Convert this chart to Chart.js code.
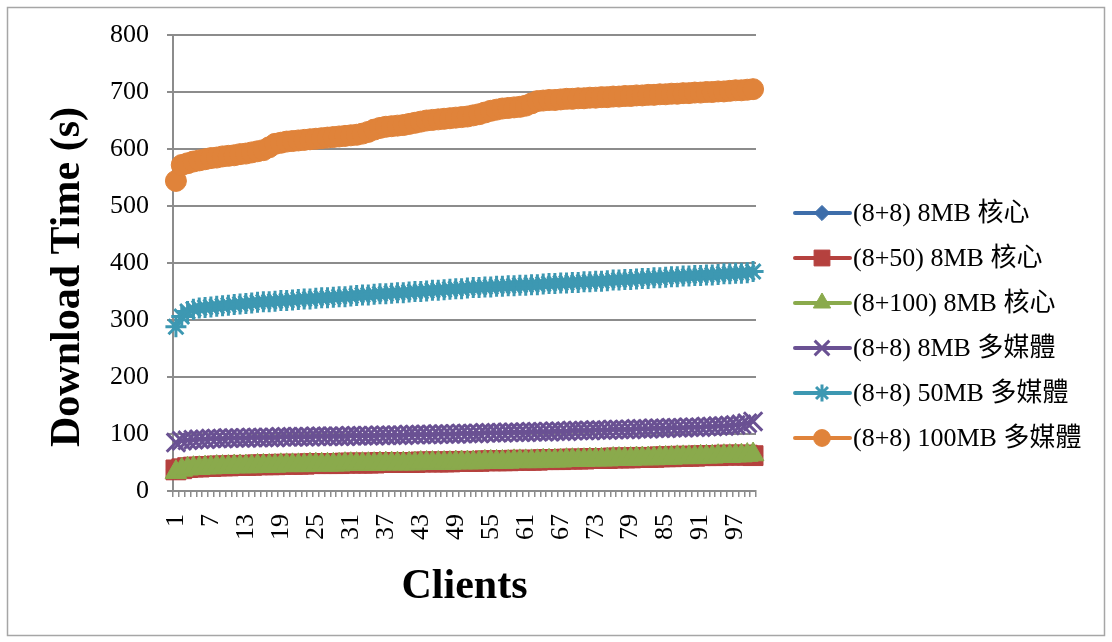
<!DOCTYPE html>
<html>
<head>
<meta charset="utf-8">
<script src="https://cdn.jsdelivr.net/npm/chart.js@4.4.1/dist/chart.umd.min.js"></script>
<style>
  html, body { margin: 0; padding: 0; background: #ffffff; }
  canvas { display: block; }
</style>
</head>
<body>
<canvas id="chart" width="1112" height="642"></canvas>
<script>
// Client index 1..100 on the category axis
const clients = Array.from({ length: 100 }, (_, i) => String(i + 1));

const seriesNames = [
  '(8+8) 8MB 核心',
  '(8+50) 8MB 核心',
  '(8+100) 8MB 核心',
  '(8+8) 8MB 多媒體',
  '(8+8) 50MB 多媒體',
  '(8+8) 100MB 多媒體'
];

const yTitle = 'Download Time (s)';
const xTitle = 'Clients';

// Download time (seconds) per client
const core8_8 = [
  37, 39, 41, 42, 42, 43, 43, 44, 44, 44,
  45, 45, 45, 45, 46, 46, 46, 46, 47, 47,
  47, 47, 47, 48, 48, 48, 48, 48, 48, 49,
  49, 49, 49, 49, 49, 50, 50, 50, 50, 50,
  50, 50, 51, 51, 51, 51, 51, 51, 52, 52,
  52, 52, 52, 53, 53, 53, 53, 53, 54, 54,
  54, 54, 54, 55, 55, 55, 55, 56, 56, 56,
  56, 57, 57, 57, 57, 58, 58, 58, 58, 59,
  59, 59, 59, 60, 60, 60, 61, 61, 61, 61,
  62, 62, 62, 62, 63, 63, 63, 63, 63, 62
];
const core8_50 = [
  37, 39, 41, 42, 42, 43, 43, 44, 44, 44,
  45, 45, 45, 45, 46, 46, 46, 46, 47, 47,
  47, 47, 47, 48, 48, 48, 48, 48, 48, 49,
  49, 49, 49, 49, 49, 50, 50, 50, 50, 50,
  50, 50, 51, 51, 51, 51, 51, 51, 52, 52,
  52, 52, 52, 53, 53, 53, 53, 53, 54, 54,
  54, 54, 54, 55, 55, 55, 55, 56, 56, 56,
  56, 57, 57, 57, 57, 58, 58, 58, 58, 59,
  59, 59, 59, 60, 60, 60, 61, 61, 61, 61,
  62, 62, 62, 62, 63, 63, 63, 63, 63, 62
];
const core8_100 = [
  33, 37, 39, 40, 40, 41, 41, 42, 42, 42,
  43, 43, 43, 43, 44, 44, 44, 44, 45, 45,
  45, 45, 45, 46, 46, 46, 46, 46, 46, 47,
  47, 47, 47, 47, 47, 48, 48, 48, 48, 48,
  48, 48, 49, 49, 49, 49, 49, 49, 50, 50,
  50, 50, 50, 51, 51, 51, 51, 51, 52, 52,
  52, 52, 52, 53, 53, 53, 53, 54, 54, 54,
  54, 55, 55, 55, 55, 56, 56, 56, 56, 57,
  57, 57, 57, 58, 58, 58, 59, 59, 59, 59,
  60, 60, 60, 61, 61, 61, 62, 62, 63, 64
];
const media8 = [
  85, 88, 89, 90, 91, 91, 92, 92, 92, 93,
  93, 93, 93, 94, 94, 94, 94, 94, 95, 95,
  95, 95, 95, 95, 96, 96, 96, 96, 96, 96,
  97, 97, 97, 97, 97, 98, 98, 98, 98, 98,
  99, 99, 99, 99, 99, 100, 100, 100, 100, 101,
  101, 101, 101, 102, 102, 102, 102, 103, 103, 103,
  103, 104, 104, 104, 104, 105, 105, 105, 106, 106,
  106, 106, 107, 107, 107, 108, 108, 108, 108, 109,
  109, 109, 110, 110, 110, 111, 111, 111, 112, 112,
  112, 113, 113, 114, 114, 115, 116, 117, 119, 122
];
const media50 = [
  288, 306, 315, 319, 321, 322, 323, 324, 325, 326,
  327, 328, 329, 330, 331, 332, 332, 333, 334, 334,
  335, 336, 337, 337, 338, 339, 339, 340, 341, 341,
  342, 343, 344, 344, 345, 346, 346, 347, 348, 348,
  349, 350, 350, 351, 352, 352, 353, 354, 355, 355,
  356, 357, 357, 358, 358, 359, 359, 360, 360, 361,
  361, 362, 362, 363, 364, 364, 365, 365, 366, 366,
  367, 367, 368, 368, 369, 370, 370, 371, 371, 372,
  373, 373, 374, 374, 375, 376, 376, 377, 377, 378,
  378, 379, 379, 380, 381, 381, 382, 382, 383, 385
];
const media100 = [
  544, 572, 575, 578, 580, 582, 584, 585, 587, 588,
  589, 591, 592, 594, 596, 598, 603, 609, 611, 613,
  614, 615, 616, 617, 618, 619, 620, 621, 622, 623,
  624, 625, 627, 630, 634, 637, 639, 640, 641, 642,
  644, 646, 648, 650, 651, 652, 653, 654, 655, 656,
  657, 659, 661, 664, 667, 669, 671, 672, 673, 674,
  676, 680, 684, 685, 686, 686, 687, 688, 688, 689,
  689, 690, 690, 691, 691, 692, 692, 693, 693, 694,
  694, 695, 695, 696, 696, 697, 697, 698, 698, 699,
  699, 700, 700, 701, 701, 702, 703, 703, 704, 705
];

const yTicks = [0, 100, 200, 300, 400, 500, 600, 700, 800];

const SERIF = "'Liberation Serif', 'Noto Sans CJK TC', serif";
const GRID = '#8c8c8c';

const styles = [
  { color: '#3e6eaa', point: 'rectRot',  radius: 9.5,  bw: 1 },
  { color: '#b5413e', point: 'rect',     radius: 14,   bw: 1 },
  { color: '#8aaa4c', point: 'triangle', radius: 12.5, bw: 1 },
  { color: '#6a5193', point: 'crossRot', radius: 13,   bw: 3 },
  { color: '#3d98b2', point: 'star',     radius: 10.5, bw: 3 },
  { color: '#e0833a', point: 'circle',   radius: 10.5, bw: 1 }
];
const values = [core8_8, core8_50, core8_100, media8, media50, media100];

const datasets = values.map((v, i) => ({
  label: seriesNames[i],
  data: v,
  borderColor: styles[i].color,
  backgroundColor: styles[i].color,
  borderWidth: 3.5,
  pointStyle: styles[i].point,
  pointRadius: styles[i].radius,
  pointBorderWidth: styles[i].bw,
  pointBackgroundColor: styles[i].color,
  pointBorderColor: styles[i].color,
  tension: 0,
  order: values.length - 1 - i
}));

// Outer frame of the chart and the vertical axis title
const framePlugin = {
  id: 'frame',
  beforeDraw(chart) {
    const ctx = chart.ctx;
    ctx.save();
    ctx.fillStyle = '#ffffff';
    ctx.fillRect(0, 0, chart.width, chart.height);
    ctx.strokeStyle = '#a6a6a6';
    ctx.lineWidth = 1.5;
    ctx.strokeRect(7.5, 7.5, 1097, 628);
    ctx.restore();
  },
  afterDraw(chart) {
    const ctx = chart.ctx;
    ctx.save();
    ctx.translate(68, 277);
    ctx.rotate(-Math.PI / 2);
    ctx.fillStyle = '#000000';
    ctx.font = 'bold 42px ' + SERIF;
    ctx.textAlign = 'center';
    ctx.textBaseline = 'middle';
    ctx.fillText(yTitle, 0, 0);
    ctx.restore();
  }
};

// Legend with a line sample and marker for each series
const lineLegend = {
  id: 'lineLegend',
  afterDraw(chart) {
    const ctx = chart.ctx;
    const x0 = 795, x1 = 850, xm = 822, xt = 853;
    const yStart = 213, step = 45;
    ctx.save();
    chart.data.datasets.forEach((ds, i) => {
      const y = yStart + i * step;
      ctx.strokeStyle = ds.borderColor;
      ctx.fillStyle = ds.borderColor;
      ctx.lineWidth = 4;
      ctx.lineCap = 'round';
      ctx.beginPath();
      ctx.moveTo(x0, y);
      ctx.lineTo(x1, y);
      ctx.stroke();
      ctx.lineCap = 'butt';
      ctx.lineWidth = ds.pointBorderWidth;
      Chart.helpers.drawPoint(ctx, {
        pointStyle: ds.pointStyle,
        radius: ds.pointRadius * 0.8,
        rotation: 0,
        borderWidth: ds.pointBorderWidth
      }, xm, y);
      ctx.fillStyle = '#000000';
      ctx.font = '26px ' + SERIF;
      ctx.textAlign = 'left';
      ctx.textBaseline = 'middle';
      ctx.fillText(ds.label, xt, y + 1);
    });
    ctx.restore();
  }
};

new Chart(document.getElementById('chart'), {
  type: 'line',
  data: { labels: clients, datasets },
  plugins: [framePlugin, lineLegend],
  options: {
    responsive: false,
    animation: false,
    layout: { padding: { left: 0, top: 35, right: 356, bottom: 0 } },
    plugins: {
      legend: { display: false },
      tooltip: { enabled: false }
    },
    scales: {
      x: {
        type: 'category',
        offset: true,
        afterFit(scale) { scale.height = 151; },
        grid: {
          display: true,
          offset: true,
          drawOnChartArea: false,
          drawTicks: true,
          tickLength: 6,
          color: GRID,
          lineWidth: 1.5
        },
        border: { display: true, color: GRID, width: 2 },
        ticks: {
          autoSkip: false,
          minRotation: 90,
          maxRotation: 90,
          padding: 17,
          color: '#000000',
          font: { family: SERIF, size: 26 },
          callback: function (value, index) {
            return index % 6 === 0 ? this.getLabelForValue(value) : '';
          }
        },
        title: {
          display: true,
          text: xTitle,
          color: '#000000',
          font: { family: SERIF, size: 42, weight: 'bold' },
          padding: { top: 0, bottom: 30 }
        }
      },
      y: {
        min: 0,
        max: 800,
        afterFit(scale) { scale.width = 173; },
        afterBuildTicks(scale) { scale.ticks = yTicks.map(v => ({ value: v })); },
        grid: {
          color: GRID,
          lineWidth: 2,
          drawTicks: true,
          tickLength: 6
        },
        border: { display: true, color: GRID, width: 2 },
        ticks: {
          padding: 18,
          color: '#000000',
          font: { family: SERIF, size: 26 }
        }
      }
    }
  }
});
</script>
</body>
</html>
